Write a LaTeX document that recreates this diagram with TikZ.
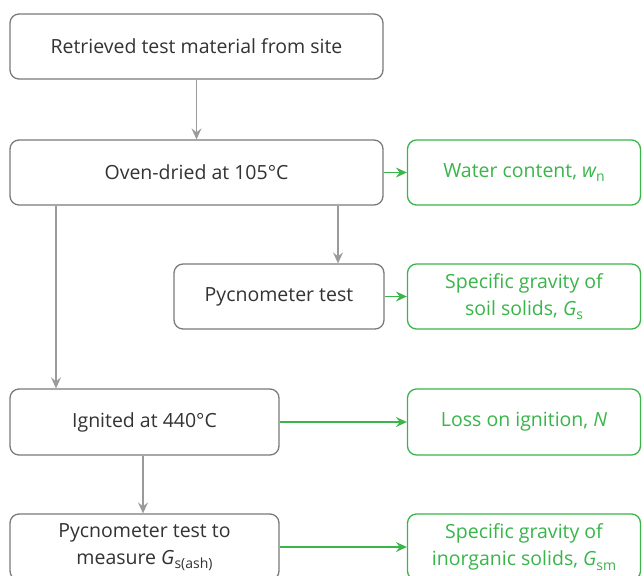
\documentclass[tikz,border=0pt]{standalone}
\usepackage{fontspec}
\setmainfont{Open Sans}
\usetikzlibrary{arrows.meta}
\definecolor{bordergray}{HTML}{7A7A7A}
\definecolor{arrowgray}{HTML}{9A9A9A}
\definecolor{textgray}{HTML}{333333}
\definecolor{leafgreen}{HTML}{39B54A}
\newcommand{\lowsub}[1]{\raisebox{-0.45ex}{\fontsize{14}{14}\selectfont #1}}
\tikzset{
  stepbox/.style={draw=bordergray, line width=1.3pt, rounded corners=9pt, fill=white,
    text=textgray, align=center, font=\fontsize{19.5}{27}\selectfont, inner sep=0pt},
  resultbox/.style={draw=leafgreen, line width=1.3pt, rounded corners=9pt, fill=white,
    text=leafgreen, align=center, font=\fontsize{19.5}{27}\selectfont, inner sep=0pt,
    minimum width=233, minimum height=65},
  grayarrow/.style={draw=arrowgray, line width=1.3pt, -{Stealth[length=11pt,width=10pt,inset=4pt]}},
  greenarrow/.style={draw=leafgreen, line width=1.3pt, -{Stealth[length=11pt,width=10pt,inset=4pt]}}
}
\begin{document}
\begin{tikzpicture}[x=1pt,y=-1pt]
\useasboundingbox (0,0) rectangle (644,575);
\node[stepbox, minimum width=373, minimum height=65] (A) at (196.5,46.5) {Retrieved test material from site};
\node[stepbox, minimum width=373, minimum height=65] (B) at (196.5,172.5) {Oven-dried at 105°C};
\node[stepbox, minimum width=210, minimum height=65] (C) at (279,296.5) {Pycnometer test};
\node[stepbox, minimum width=269, minimum height=66] (D) at (144.5,422) {Ignited at 440°C};
\node[stepbox, minimum width=269, minimum height=66] (E) at (144.5,547) {Pycnometer test to\\measure {\itshape G}\lowsub{s(ash)}};
\node[resultbox] (W) at (524,172.5) {Water content, {\itshape w}\lowsub{n}};
\node[resultbox] (S) at (524,296.5) {Specific gravity of\\soil solids, {\itshape G}\lowsub{s}};
\node[resultbox, minimum height=66] (L) at (524,422) {Loss on ignition, {\itshape N}};
\node[resultbox, minimum height=66] (I) at (524,547) {Specific gravity of\\inorganic solids, {\itshape G}\lowsub{sm}};
\draw[grayarrow] (A.south) -- (B.north);
\draw[grayarrow] ([xshift=141.5pt]B.south) -- ([xshift=141.5pt]B.south |- C.north);
\draw[grayarrow] ([xshift=-140.5pt]B.south) -- ([xshift=-140.5pt]B.south |- D.north);
\draw[grayarrow] ([xshift=-1.5pt]D.south) -- ([xshift=-1.5pt]D.south |- E.north);
\draw[greenarrow] (B.east) -- (W.west);
\draw[greenarrow] (C.east) -- (S.west);
\draw[greenarrow] (D.east) -- (L.west);
\draw[greenarrow] (E.east) -- (I.west);
\end{tikzpicture}
\end{document}
